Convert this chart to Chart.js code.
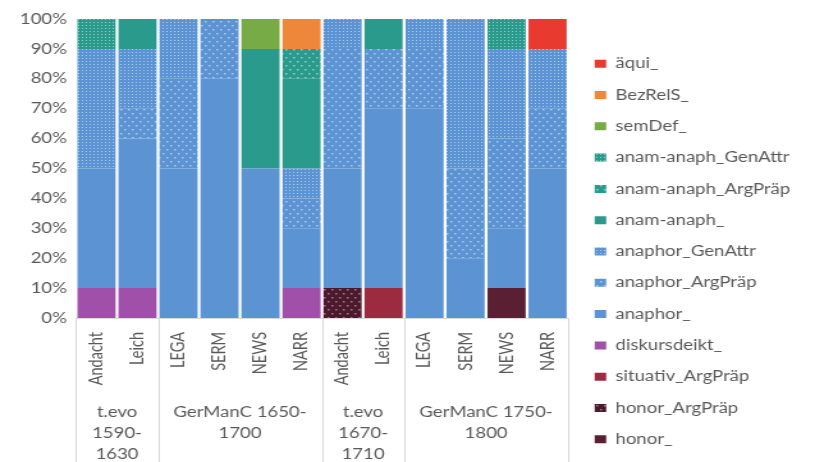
<!DOCTYPE html>
<html><head><meta charset="utf-8">
<script src="https://cdn.jsdelivr.net/npm/chart.js@4/dist/chart.umd.min.js"></script>
<style>html,body{margin:0;padding:0;background:#fff;overflow:hidden}
#c{display:block}</style>
</head><body>
<canvas id="c" width="637" height="462" style="width:815px;height:462px"></canvas>
<script>
// ---- data ----
const categories = ['Andacht','Leich','LEGA','SERM','NEWS','NARR','Andacht','Leich','LEGA','SERM','NEWS','NARR'];
const groupLabels = [['t.evo','1590-','1630'], ['GerManC 1650-','1700'], ['t.evo','1670-','1710'], ['GerManC 1750-','1800']];
const groupSizes = [2, 4, 2, 4];
const yTickLabels = ['0%','10%','20%','30%','40%','50%','60%','70%','80%','90%','100%'];

const honor_            = [0,0,0,0,0,0,0,0,0,0,10,0];
const honor_ArgPraep    = [0,0,0,0,0,0,10,0,0,0,0,0];
const situativ_ArgPraep = [0,0,0,0,0,0,0,10,0,0,0,0];
const diskursdeikt_     = [10,10,0,0,0,10,0,0,0,0,0,0];
const anaphor_          = [40,50,50,80,50,20,40,60,70,20,20,50];
const anaphor_ArgPraep  = [0,10,30,20,0,10,40,20,20,30,30,20];
const anaphor_GenAttr   = [40,20,20,0,0,10,10,0,10,50,30,20];
const anamAnaph_        = [0,10,0,0,40,30,0,10,0,0,0,0];
const anamAnaph_ArgPraep= [0,0,0,0,0,10,0,0,0,0,0,0];
const anamAnaph_GenAttr = [10,0,0,0,0,0,0,0,0,0,10,0];
const semDef_           = [0,0,0,0,10,0,0,0,0,0,0,0];
const BezRelS_          = [0,0,0,0,0,10,0,0,0,0,0,0];
const aequi_            = [0,0,0,0,0,0,0,0,0,0,0,10];

const seriesNames = ['honor_','honor_ArgPräp','situativ_ArgPräp','diskursdeikt_','anaphor_','anaphor_ArgPräp','anaphor_GenAttr','anam-anaph_','anam-anaph_ArgPräp','anam-anaph_GenAttr','semDef_','BezRelS_','äqui_'];
const seriesValues = [honor_,honor_ArgPraep,situativ_ArgPraep,diskursdeikt_,anaphor_,anaphor_ArgPraep,anaphor_GenAttr,anamAnaph_,anamAnaph_ArgPraep,anamAnaph_GenAttr,semDef_,BezRelS_,aequi_];

// ---- styles ----
const canvas = document.getElementById('c');
const mainCtx = canvas.getContext('2d');
function pattern(base, dot, kind){
  const t = document.createElement('canvas');
  if (kind === 'dense') { t.width = 3; t.height = 3; } else { t.width = 6; t.height = 8; }
  const g = t.getContext('2d');
  g.fillStyle = base; g.fillRect(0,0,t.width,t.height);
  g.fillStyle = dot;
  if (kind === 'dense') { g.fillRect(1,1,1,1); }
  else { g.fillRect(1,1,1.5,1.5); g.fillRect(4,5,1.5,1.5); }
  return mainCtx.createPattern(t,'repeat');
}
const BLUE = '#5b93d3', TEAL = '#2a9a8c';
const styles = {
  'honor_': '#5b1f33',
  'honor_ArgPräp': pattern('#4a1a2c','#a8788c','sparse'),
  'situativ_ArgPräp': '#9c2b40',
  'diskursdeikt_': '#a050a8',
  'anaphor_': BLUE,
  'anaphor_ArgPräp': pattern(BLUE,'#abcbef','sparse'),
  'anaphor_GenAttr': pattern(BLUE,'#abcbef','dense'),
  'anam-anaph_': TEAL,
  'anam-anaph_ArgPräp': pattern(TEAL,'#8fcfc6','sparse'),
  'anam-anaph_GenAttr': pattern(TEAL,'#8fcfc6','dense'),
  'semDef_': '#77ab45',
  'BezRelS_': '#ef873a',
  'äqui_': '#e83a2e'
};

const TXT = '#595959';
const FONT = {family: 'Lato', size: 14.5};
Chart.defaults.font.family = 'Lato';

// legend sizing so that the plot ends where the reference plot ends
const LEG_PAD = 16.8, BOX_W = 9;
mainCtx.font = '14.5px Lato';
const longest = Math.max(...seriesNames.map(s => mainCtx.measureText(s).width));
const legendW = LEG_PAD + BOX_W + 14.5 / 2 + longest + 10;
const PLOT_RIGHT = 444;
const padRight = Math.max(0, canvas.width - PLOT_RIGHT - legendW);

const shiftLegend = {
  id: 'shiftLegend',
  afterLayout(chart){
    const l = chart.legend; if (!l) return;
    const dx = 4, dy = 11;
    l.left += dx; l.right += dx; l.top += dy; l.bottom += dy;
  }
};

const groupAxis = {
  id: 'groupAxis',
  afterDraw(chart){
    const {ctx, chartArea, scales:{x}} = chart;
    ctx.save();
    const bounds = [chartArea.left];
    let idx = 0;
    groupSizes.forEach(n => {
      idx += n;
      bounds.push(idx >= categories.length ? chartArea.right : (x.getPixelForValue(idx-1) + x.getPixelForValue(idx)) / 2);
    });
    ctx.strokeStyle = '#d9d9d9'; ctx.lineWidth = 1;
    bounds.forEach(b => {
      const xx = Math.round(b) + 0.5;
      ctx.beginPath(); ctx.moveTo(xx, chartArea.bottom); ctx.lineTo(xx, chart.height); ctx.stroke();
    });
    ctx.fillStyle = TXT; ctx.font = '14.5px Lato';
    ctx.textAlign = 'center'; ctx.textBaseline = 'middle';
    groupLabels.forEach((lines, i) => {
      const cx = (bounds[i] + bounds[i+1]) / 2;
      lines.forEach((ln, j) => ctx.fillText(ln, cx, 412 + j * 21));
    });
    ctx.restore();
  }
};

new Chart(canvas, {
  type: 'bar',
  data: {
    labels: categories,
    datasets: seriesNames.map((name, i) => ({
      label: name,
      data: seriesValues[i],
      backgroundColor: styles[name],
      borderWidth: 0,
      barPercentage: 0.93,
      categoryPercentage: 1.0
    }))
  },
  options: {
    responsive: false,
    animation: false,
    layout: {padding: {left: 15.4, top: 19, right: padRight, bottom: 0}},
    plugins: {
      tooltip: {enabled: false},
      legend: {
        position: 'right',
        reverse: true,
        maxWidth: 400,
        labels: {color: TXT, font: FONT, boxWidth: BOX_W, boxHeight: 8, padding: LEG_PAD}
      }
    },
    scales: {
      x: {
        stacked: true,
        grid: {display: false, drawTicks: false},
        border: {display: true, color: '#d9d9d9'},
        ticks: {color: TXT, font: FONT, minRotation: 90, maxRotation: 90, padding: 14, autoSkip: false},
        afterFit(s){ s.height = 144; }
      },
      y: {
        stacked: true, min: 0, max: 100,
        grid: {display: false, drawTicks: false},
        border: {display: false},
        ticks: {color: TXT, font: FONT, stepSize: 10, padding: 7,
          callback: (v) => yTickLabels[Math.round(v / 10)]},
        afterFit(s){ s.width = 44; }
      }
    }
  },
  plugins: [shiftLegend, groupAxis]
});
</script>
</body></html>
